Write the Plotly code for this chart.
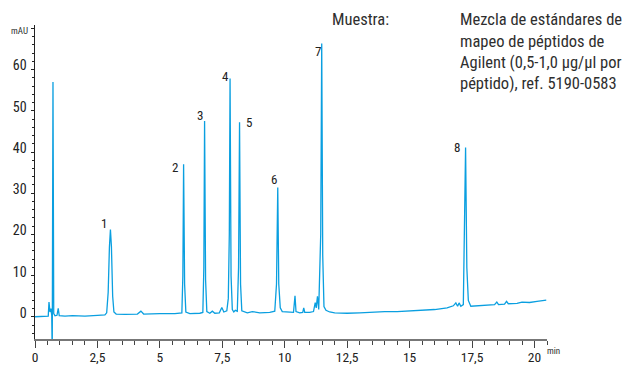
import plotly.graph_objects as go

# ---------------- data ----------------
time_min = [
    0.0, 0.3, 0.5, 0.53, 0.56, 0.60, 0.64, 0.67, 0.69, 0.72, 0.75, 0.80, 0.88, 0.93, 0.97,
    1.2, 1.5, 2.0, 2.5, 2.8,
    2.87, 2.93, 2.98, 3.02, 3.06, 3.11, 3.16, 3.25,
    3.6, 4.1, 4.24, 4.35, 5.0, 5.6, 5.88,
    5.92, 5.95, 5.99, 6.04, 6.2,
    6.6, 6.72, 6.76, 6.79, 6.83, 6.88, 7.0, 7.1, 7.2, 7.38, 7.48, 7.56, 7.68, 7.74,
    7.78, 7.81, 7.85, 7.9, 7.96, 8.02, 8.1,
    8.15, 8.19, 8.23, 8.28, 8.5, 8.7, 9.0, 9.4, 9.6,
    9.67, 9.72, 9.76, 9.82, 9.9, 10.1, 10.35,
    10.41, 10.45, 10.6, 10.72, 10.76, 10.8, 11.0, 11.15, 11.22, 11.26, 11.31, 11.36,
    11.44, 11.48, 11.52, 11.57, 11.65, 11.8, 12.0, 12.5, 13.0, 13.5, 14.0, 14.5, 15.0,
    15.5, 16.0, 16.5, 16.75, 16.85, 16.92, 16.98, 17.05, 17.15,
    17.2, 17.24, 17.29, 17.35, 17.45, 17.8, 18.2, 18.4, 18.49, 18.56, 18.8, 18.88, 18.95,
    19.3, 19.5, 19.8, 20.1, 20.3, 20.47,
]
signal_mau = [
    0.05, 0.05, 0.1, 0.2, 3.6, 1.2, 2.0, 0.3, -9.0, 57.0, 0.8, 0.3, 0.4, 2.1, 0.3,
    0.2, 0.3, 0.2, 0.4, 0.5,
    1.0, 6.0, 17.0, 21.2, 17.0, 5.0, 1.2, 0.7,
    0.6, 0.7, 1.4, 0.7, 0.8, 0.8, 1.0,
    10.0, 37.0, 8.0, 1.2, 0.8,
    0.9, 1.1, 12.0, 47.5, 9.0, 1.3, 0.9, 1.4, 0.9, 1.0, 2.3, 1.2, 1.5, 4.5,
    20.0, 57.8, 10.0, 1.8, 1.2, 1.6, 1.4,
    12.0, 47.2, 8.0, 1.5, 1.0, 1.3, 1.0, 1.1, 1.4,
    8.0, 31.4, 8.0, 2.2, 1.3, 1.2, 1.1,
    5.1, 1.3, 1.0, 1.1, 2.2, 1.1, 1.1, 1.3, 3.5, 2.2, 5.0, 1.8,
    20.0, 66.3, 15.0, 2.5, 1.6, 1.2, 1.0, 0.9, 1.0, 1.2, 1.3, 1.3, 1.5,
    1.6, 1.8, 2.2, 2.7, 3.4, 2.6, 3.4, 2.6, 3.0,
    20.0, 41.1, 12.0, 4.0, 2.6, 2.7, 2.9, 3.0, 3.6, 3.0, 3.1, 3.8, 3.2,
    3.3, 3.6, 3.5, 3.8, 3.9, 4.1,
]

peak_numbers = ["1", "2", "3", "4", "5", "6", "7", "8"]
peak_times = [3.02, 5.95, 6.79, 7.81, 8.19, 9.72, 11.48, 17.24]
peak_heights = [21.2, 37.0, 47.5, 57.8, 47.2, 31.4, 66.3, 41.1]

x_tick_vals = [0, 2.5, 5, 7.5, 10, 12.5, 15, 17.5, 20]
x_tick_text = ["0", "2,5", "5", "7,5", "10", "12,5", "15", "17,5", "20"]
y_tick_vals = [0, 10, 20, 30, 40, 50, 60, 70]
y_tick_text = ["0", "10", "20", "30", "40", "50", "60", ""]

sample_label = "Muestra:"
sample_lines = [
    "Mezcla de estándares de",
    "mapeo de péptidos de",
    "Agilent (0,5-1,0 µg/µl por",
    "péptido), ref. 5190-0583",
]

# ---------------- styling ----------------
W, H = 629, 365
ML, MR, MT, MB = 35, 82, 25, 26
FONT = "Liberation Sans Narrow, Roboto Condensed, Arial Narrow, Liberation Sans, sans-serif"
TEXT = "#2e2e2e"
TICKTXT = "#222222"
LINE = "#0a9fe0"

# label offsets in pixels (dx, dy up)
label_offsets = [(-6, 6), (-9, -3), (-5, 6), (-5, 2), (9, 0), (-4, 8), (-4, -8), (-9, 0)]


def px_to_paper(px, py):
    pw = W - ML - MR
    ph = H - MT - MB
    return (px - ML) / pw, (H - MB - py) / ph


fig = go.Figure()
fig.add_trace(go.Scatter(x=time_min, y=signal_mau, mode="lines",
                         line=dict(color=LINE, width=1.3), hoverinfo="skip"))

annotations = []
for lab, t, h, (dx, dy) in zip(peak_numbers, peak_times, peak_heights, label_offsets):
    annotations.append(dict(x=t, y=h, xref="x", yref="y", text=lab, showarrow=False,
                            xshift=dx, yshift=dy, font=dict(family=FONT, size=13, color="#222")))

# axis unit labels
annotations.append(dict(xref="paper", yref="paper", x=1, y=0, xanchor="left", yanchor="middle",
                        xshift=-2, yshift=-12, text="min", showarrow=False,
                        font=dict(family=FONT, size=9, color=TEXT)))
annotations.append(dict(xref="paper", yref="y", x=0, y=70, xanchor="right", yanchor="middle",
                        xshift=-5, yshift=-3, text="mAU", showarrow=False,
                        font=dict(family=FONT, size=9, color=TEXT)))

# sample text
sx, sy = px_to_paper(330, 20)
annotations.append(dict(xref="paper", yref="paper", x=sx, y=sy, xanchor="left", yanchor="middle",
                        text=sample_label, showarrow=False,
                        font=dict(family=FONT, size=16.5, color=TEXT)))
for i, line in enumerate(sample_lines):
    lx, ly = px_to_paper(458, 20 + 21.1 * i)
    annotations.append(dict(xref="paper", yref="paper", x=lx, y=ly, xanchor="left",
                            yanchor="middle", text=line, showarrow=False,
                            font=dict(family=FONT, size=16.5, color=TEXT)))

fig.update_layout(
    width=W, height=H,
    margin=dict(l=ML, r=MR, t=MT, b=MB, pad=0, autoexpand=False),
    paper_bgcolor="white", plot_bgcolor="white",
    showlegend=False,
    annotations=annotations,
    font=dict(family=FONT, color=TEXT),
    xaxis=dict(
        range=[0, 20.5], tickvals=x_tick_vals, ticktext=x_tick_text,
        ticks="outside", ticklen=7, tickwidth=1.2, tickcolor="#444",
        showline=True, linecolor="#777", linewidth=1.6,
        showgrid=False, zeroline=False, automargin=False,
        ticklabelstandoff=-2,
        tickfont=dict(family=FONT, size=13.5, color=TICKTXT),
        minor=dict(dtick=0.5, tick0=0, ticks="outside", ticklen=4, tickcolor="#444", tickwidth=1.2),
    ),
    yaxis=dict(
        range=[-5.35, 70.8], tickvals=y_tick_vals, ticktext=y_tick_text,
        ticks="outside", ticklen=3.5, tickwidth=1, tickcolor="#222",
        showline=True, linecolor="#222", linewidth=1,
        showgrid=False, zeroline=False, automargin=False,
        ticklabelshift=-4, ticklabelstandoff=1,
        tickfont=dict(family=FONT, size=14, color=TICKTXT),
        minor=dict(dtick=2, tick0=0, ticks="outside", ticklen=2, tickcolor="#222", tickwidth=1),
    ),
)

fig.write_html("out.html")
